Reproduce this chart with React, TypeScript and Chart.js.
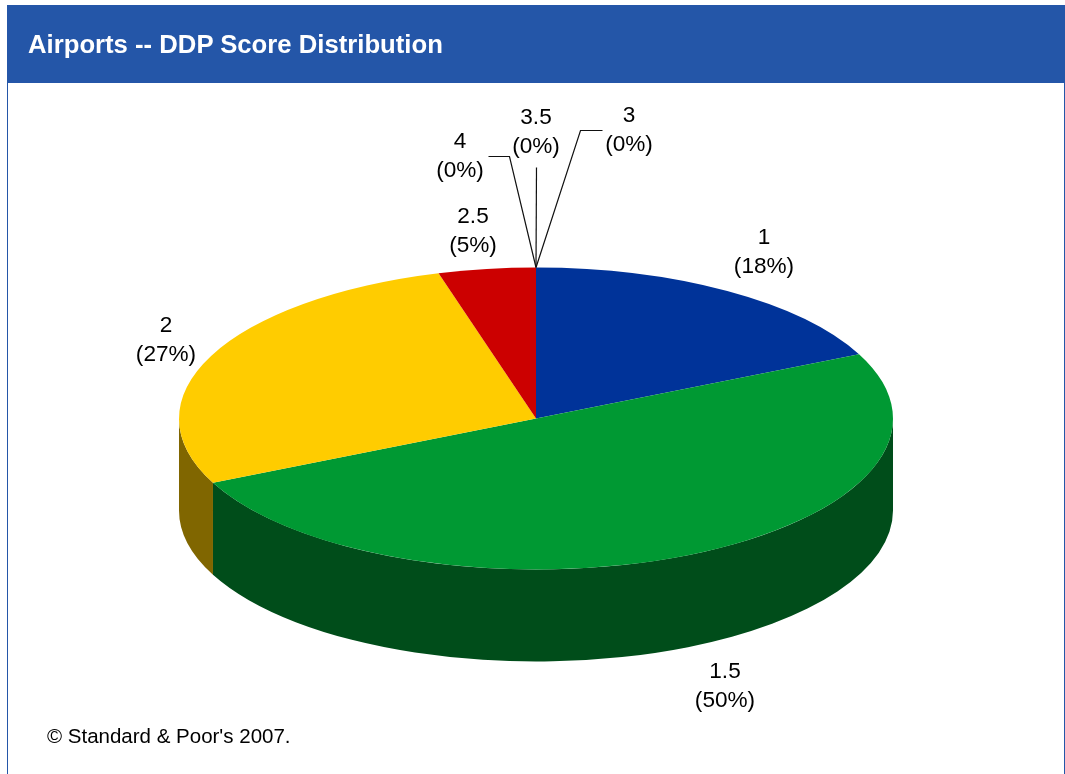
import React, { useEffect, useRef } from "react";
import { Chart, registerables } from "chart.js";

Chart.register(...registerables);

const categories = ["1", "1.5", "2", "2.5", "3", "3.5", "4"];
const shares = [18, 50, 27.6, 4.4, 0, 0, 0];
const shareLabels = ["(18%)", "(50%)", "(27%)", "(5%)", "(0%)", "(0%)", "(0%)"];
const topColors = ["#003399", "#009933", "#FFCC00", "#CC0000", "#FF9900", "#666666", "#3366CC"];
const sideColors = ["#001A4D", "#004D1A", "#806600", "#660000", "#804D00", "#333333", "#1A3366"];

const FONT = '"Liberation Sans", Arial, sans-serif';
const CENTER_Y = 418.5;
const TILT = 151 / 357;
const DEPTH = 92;

// label centre [x, y of first line], and the optional leader line elbow points
const labelLayout: { x: number; y: number; leader?: number[][] }[] = [
  { x: 764, y: 238 },
  { x: 725, y: 672 },
  { x: 166, y: 326 },
  { x: 473, y: 217 },
  { x: 629, y: 116, leader: [[580, 130], [602, 130]] },
  { x: 536, y: 118, leader: [[536, 167]] },
  { x: 460, y: 142, leader: [[509, 156], [488, 156]] },
];

const pie3d = {
  id: "pie3d",
  beforeDatasetsDraw(chart: any) {
    const ctx = chart.ctx;
    const arcs = chart.getDatasetMeta(0).data;
    const first = arcs[0];
    const cx = first.x;
    const r = first.outerRadius;
    const ry = r * TILT;
    ctx.save();
    arcs.forEach((arc: any, i: number) => {
      [0, 2 * Math.PI].forEach((shift) => {
        const a = Math.max(arc.startAngle + shift, 0);
        const b = Math.min(arc.endAngle + shift, Math.PI);
        if (b <= a) return;
        ctx.beginPath();
        ctx.ellipse(cx, CENTER_Y, r, ry, 0, a, b);
        ctx.ellipse(cx, CENTER_Y + DEPTH, r, ry, 0, b, a, true);
        ctx.closePath();
        ctx.fillStyle = sideColors[i];
        ctx.fill();
      });
    });
    ctx.restore();
    ctx.save();
    ctx.translate(cx, CENTER_Y);
    ctx.scale(1, TILT);
    ctx.translate(-cx, -first.y);
  },
  afterDatasetsDraw(chart: any) {
    const ctx = chart.ctx;
    ctx.restore();
    const arcs = chart.getDatasetMeta(0).data;
    ctx.save();
    ctx.strokeStyle = "#111111";
    ctx.lineWidth = 1.2;
    ctx.fillStyle = "#000000";
    ctx.font = `22.6px ${FONT}`;
    ctx.textAlign = "center";
    ctx.textBaseline = "middle";
    labelLayout.forEach((l, i) => {
      if (l.leader) {
        const arc = arcs[i];
        const tipX = arc.x + arc.outerRadius * Math.cos(arc.startAngle);
        const tipY = CENTER_Y + arc.outerRadius * TILT * Math.sin(arc.startAngle);
        ctx.beginPath();
        ctx.moveTo(tipX, tipY);
        l.leader.forEach((p) => ctx.lineTo(p[0] + 0.5, p[1] + 0.5));
        ctx.stroke();
      }
      ctx.fillText(categories[i], l.x, l.y);
      ctx.fillText(shareLabels[i], l.x, l.y + 29);
    });
    ctx.restore();
  },
};

export default function App() {
  const ref = useRef<HTMLCanvasElement>(null);
  useEffect(() => {
    document.body.style.margin = "0";
    const chart = new Chart(ref.current!, {
      type: "pie",
      data: {
        labels: categories,
        datasets: [{ data: shares, backgroundColor: topColors, borderWidth: 0, hoverOffset: 0, clip: false } as any],
      },
      options: {
        responsive: false,
        animation: false,
        layout: { padding: { left: 179, right: 172, top: 30, bottom: 30 } },
        plugins: { legend: { display: false }, tooltip: { enabled: false } },
      },
      plugins: [pie3d],
    });
    return () => chart.destroy();
  }, []);
  return (
    <div style={{ position: "relative", width: 1065, height: 774, overflow: "hidden", background: "#fff" }}>
      <canvas ref={ref} width={1065} height={774} style={{ position: "absolute", left: 0, top: 0, display: "block" }} />
      <div style={{ position: "absolute", left: 7, top: 83, width: 1, height: 691, background: "#2456A8" }} />
      <div style={{ position: "absolute", left: 1064, top: 83, width: 1, height: 691, background: "#2456A8" }} />
      <div
        style={{
          position: "absolute", left: 7, top: 5, width: 1058, height: 78, background: "#2456A8", color: "#fff",
          fontFamily: FONT, fontWeight: "bold", fontSize: 25.7, lineHeight: "79px", whiteSpace: "nowrap",
        }}
      >
        <span style={{ position: "absolute", left: 21, top: 0 }}>Airports -- DDP Score Distribution</span>
      </div>
      <div style={{ position: "absolute", left: 47, top: 724, fontFamily: FONT, fontSize: 20.5, lineHeight: "24px", color: "#000", whiteSpace: "nowrap" }}>
        © Standard &amp; Poor's 2007.
      </div>
    </div>
  );
}
